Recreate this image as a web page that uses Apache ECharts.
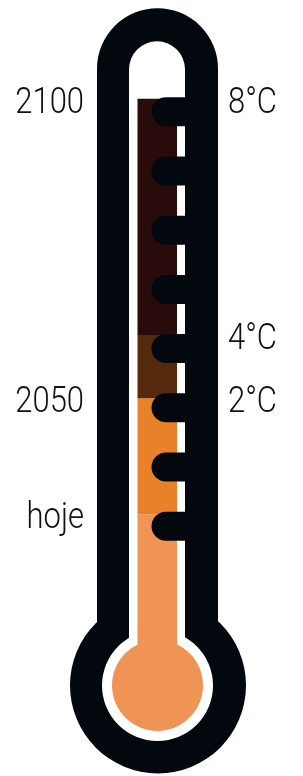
<!DOCTYPE html>
<html>
<head>
<meta charset="utf-8">
<script src="https://cdn.jsdelivr.net/npm/echarts@6/dist/echarts.min.js"></script>
<style>
html, body { margin: 0; padding: 0; background: #fff; }
#chart { width: 303px; height: 776px; }
</style>
</head>
<body>
<div id="chart"></div>
<script>
// níveis das marcas do termómetro (1 = marca de baixo, 8 = marca de cima)
const tickLevels = [1, 2, 3, 4, 5, 6, 7, 8];
// topo de cada faixa do líquido, de baixo para cima
const fluidTops = [1.2, 3.16, 4.23, 8.22];
const fluidColors = ['#f09455', '#e8822a', '#552a0c', '#2a0b0b'];
// rótulos à esquerda (anos) e à direita (temperaturas)
const yearLabels = ['hoje', '2050', '2100'];
const yearLevels = [1.2, 3.16, 8.22];
const tempLabels = ['2°C', '4°C', '8°C'];
const tempLevels = [3.16, 4.23, 8.22];

// forma do vidro, em níveis do eixo
const TUBE_TOP = 9.75;
const CAVITY_TOP = 9.19;
const BULB = -1.69;
const BLACK = '#03070e';
const FONT = "Roboto, 'Noto Sans', sans-serif";

const chart = echarts.init(document.getElementById('chart'));

// corpo do termómetro
function renderBody(params, api) {
  const top = api.coord([0, TUBE_TOP]);
  const cav = api.coord([0, CAVITY_TOP]);
  const bulb = api.coord([0, BULB]);
  const cx = top[0];
  return {
    type: 'group',
    children: [
      { type: 'rect', shape: { x: cx - 60.5, y: top[1], width: 121, height: bulb[1] - top[1], r: [60.5, 60.5, 0, 0] }, style: { fill: BLACK } },
      { type: 'circle', shape: { cx: cx + 0.5, cy: bulb[1], r: 88 }, style: { fill: BLACK } },
      { type: 'rect', shape: { x: cx - 28.5, y: cav[1], width: 56, height: bulb[1] - cav[1], r: [28, 28, 0, 0] }, style: { fill: '#fff' } },
      { type: 'circle', shape: { cx: cx, cy: bulb[1], r: 55.5 }, style: { fill: '#fff' } }
    ]
  };
}

// faixas do líquido
function renderFluid(params, api) {
  const from = api.coord([0, api.value(0)]);
  const to = api.coord([0, api.value(1)]);
  const color = fluidColors[api.value(2)];
  const children = [
    { type: 'rect', shape: { x: from[0] - 20, y: to[1], width: 39.5, height: from[1] - to[1] }, style: { fill: color } }
  ];
  if (params.dataIndex === 0) {
    children.push({ type: 'circle', shape: { cx: from[0], cy: from[1], r: 45.5 }, style: { fill: color } });
  }
  return { type: 'group', children: children };
}

// marcas (riscos arredondados)
function renderTick(params, api) {
  const p = api.coord([0, api.value(1)]);
  return {
    type: 'rect',
    shape: { x: p[0] - 6, y: p[1] - 14.5, width: 36, height: 29, r: [14.5, 0, 0, 14.5] },
    style: { fill: BLACK }
  };
}

function labelRenderer(texts, dx, align) {
  return function (params, api) {
    const p = api.coord([0, api.value(1)]);
    return {
      type: 'text',
      x: p[0] + dx,
      y: p[1] - 13,
      scaleX: 0.86,
      style: {
        text: texts[params.dataIndex],
        fill: '#111',
        fontSize: 36,
        fontWeight: 300,
        fontFamily: FONT,
        align: align,
        verticalAlign: 'top'
      }
    };
  };
}

const fluidData = fluidTops.map((t, i) => [i === 0 ? BULB : fluidTops[i - 1], t, i]);

const option = {
  animation: false,
  grid: { left: 12, right: 0, top: 23, height: 740 },
  xAxis: { type: 'value', min: -1, max: 1, show: false },
  yAxis: { type: 'value', min: -3, max: 9.5, show: false },
  series: [
    { type: 'custom', z: 1, clip: false, data: [[0, 0]], renderItem: renderBody },
    { type: 'custom', z: 2, clip: false, data: fluidData, renderItem: renderFluid },
    { type: 'custom', z: 3, clip: false, data: tickLevels.map(l => [0, l]), renderItem: renderTick },
    { type: 'custom', z: 4, clip: false, data: yearLevels.map(l => [0, l]), renderItem: labelRenderer(yearLabels, -73.5, 'right') },
    { type: 'custom', z: 4, clip: false, data: tempLevels.map(l => [0, l]), renderItem: labelRenderer(tempLabels, 70.5, 'left') }
  ]
};

chart.setOption(option);
</script>
</body>
</html>
